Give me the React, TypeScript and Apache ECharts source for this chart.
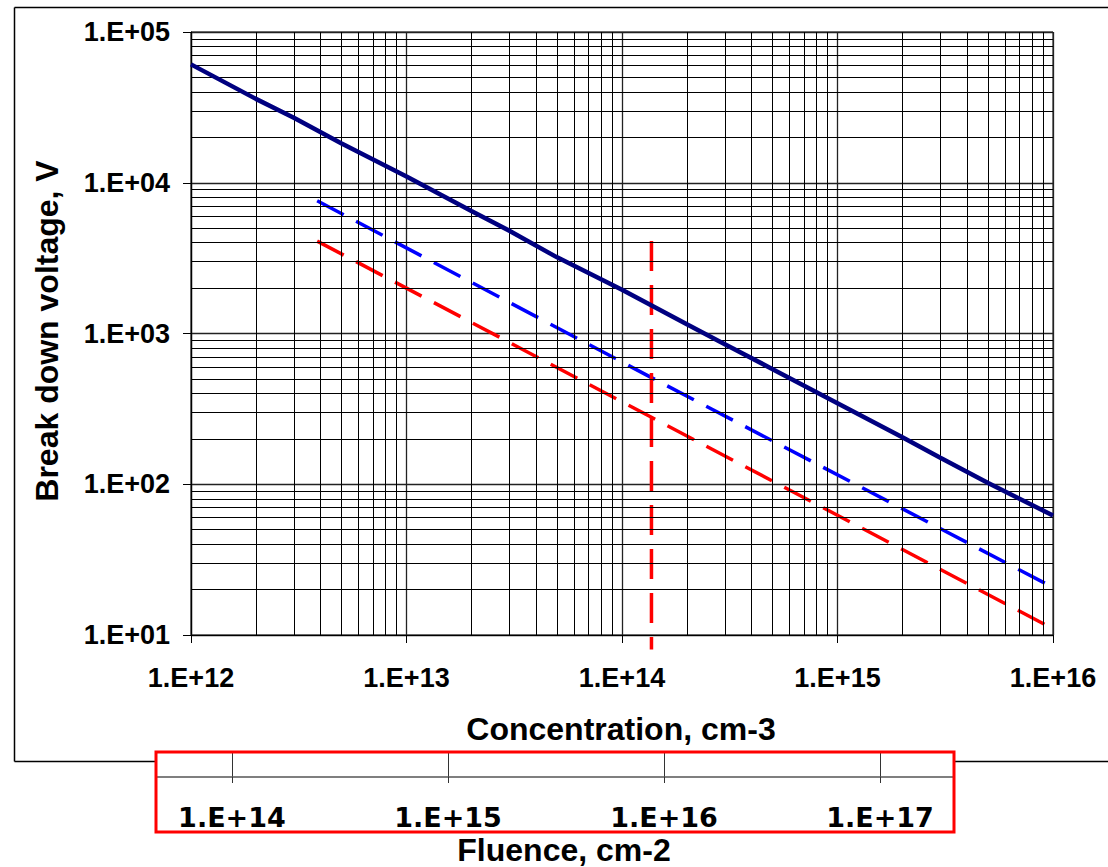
import React, { useEffect, useRef } from "react";
import * as echarts from "echarts";

// Concentration (cm-3) and breakdown voltage (V) – solid navy curve
const CONC = [1e12, 2e12, 3e12, 5e12, 1e13, 2e13, 3e13, 5e13, 1e14, 2e14, 3e14, 5e14, 1e15, 2e15, 3e15, 5e15, 1e16];
const VBD = [61000, 36000, 27000, 18200, 11000, 6500, 4800, 3200, 1950, 1150, 850, 580, 345, 205, 150, 102, 62];

// Blue dashed line
const BLUE_X = [3.85e12, 1.37e14, 9.2e15];
const BLUE_Y = [7600, 510, 22];

// Red dashed line
const RED_X = [3.85e12, 1.37e14, 9.2e15];
const RED_Y = [4100, 278, 11.7];

// Red vertical dashed marker
const VLINE_X = [1.37e14, 1.37e14];
const VLINE_Y = [4100, 8];

// Axis ranges
const X_MIN = 1e12;
const X_MAX = 1e16;
const Y_MIN = 10;
const Y_MAX = 1e5;
const FLU_MIN = 4.45e13;
const FLU_MAX = 2.2e17;

// Minor grid decades / multipliers
const X_DECADES = [1e12, 1e13, 1e14, 1e15];
const Y_DECADES = [1e1, 1e2, 1e3, 1e4];
const MULTS = [2, 3, 4, 5, 6, 7, 8, 9];

const FONT = "'Liberation Sans', Arial, sans-serif";

function fmtExp(v: number): string {
  const e = Math.log10(v);
  const r = Math.round(e);
  if (Math.abs(e - r) > 1e-6) return "";
  const s = Math.abs(r).toString().padStart(2, "0");
  return "1.E" + (r < 0 ? "-" : "+") + s;
}

export default function App() {
  const ref = useRef<HTMLDivElement>(null);
  useEffect(() => {
    document.body.style.margin = "0";
    if (!ref.current) return;
    const chart = echarts.init(ref.current, undefined, { renderer: "svg" });

    const minorX: any[] = [];
    X_DECADES.forEach((d) => MULTS.forEach((m) => minorX.push({ xAxis: d * m })));
    const minorY: any[] = [];
    Y_DECADES.forEach((d) => MULTS.forEach((m) => minorY.push({ yAxis: d * m })));

    const zip = (a: number[], b: number[]) => a.map((v, i) => [v, b[i]]);

    const option: any = {
      animation: false,
      backgroundColor: "#fff",
      grid: [
        {
          left: 191,
          right: 55,
          top: 32,
          bottom: 232,
          show: true,
          borderColor: "#000",
          borderWidth: 1,
          outerBoundsMode: "none",
        },
        {
          left: 156,
          right: 154,
          top: 752,
          height: 25,
          show: false,
          outerBoundsMode: "none",
        },
      ],
      xAxis: [
        {
          type: "log",
          logBase: 10,
          min: X_MIN,
          max: X_MAX,
          gridIndex: 0,
          axisLine: { show: true, lineStyle: { color: "#000", width: 1 } },
          axisTick: { show: true, length: 8, lineStyle: { color: "#000" } },
          splitLine: { show: true, lineStyle: { color: "#222", width: 1.3 } },
          axisLabel: {
            formatter: (v: number) => fmtExp(v),
            fontFamily: FONT,
            fontWeight: "bold",
            fontSize: 27,
            color: "#000",
            margin: 29,
          },
        },
        {
          type: "log",
          logBase: 10,
          min: FLU_MIN,
          max: FLU_MAX,
          gridIndex: 1,
          axisLine: { show: true, lineStyle: { color: "#555", width: 1.5 } },
          axisTick: { show: true, length: 6, lineStyle: { color: "#333" } },
          splitLine: { show: true, lineStyle: { color: "#333", width: 1 } },
          axisLabel: {
            formatter: (v: number) => fmtExp(v),
            fontFamily: "'DejaVu Sans', sans-serif",
            fontWeight: "bold",
            fontSize: 27,
            color: "#000",
            margin: 27,
          },
        },
      ],
      yAxis: [
        {
          type: "log",
          logBase: 10,
          min: Y_MIN,
          max: Y_MAX,
          gridIndex: 0,
          axisLine: { show: true, lineStyle: { color: "#000", width: 1 } },
          axisTick: { show: true, length: 8, lineStyle: { color: "#000" } },
          splitLine: { show: true, lineStyle: { color: "#222", width: 1.3 } },
          axisLabel: {
            formatter: (v: number) => fmtExp(v),
            fontFamily: FONT,
            fontWeight: "bold",
            fontSize: 27,
            color: "#000",
            margin: 21,
          },
        },
        {
          type: "value",
          gridIndex: 1,
          min: 0,
          max: 1,
          show: false,
        },
      ],
      series: [
        {
          type: "line",
          xAxisIndex: 0,
          yAxisIndex: 0,
          data: [],
          z: 1,
          silent: true,
          markLine: {
            silent: true,
            animation: false,
            symbol: ["none", "none"],
            label: { show: false },
            lineStyle: { type: "solid", color: "#000", width: 1 },
            emphasis: { disabled: true },
            data: [...minorX, ...minorY],
          },
        },
        {
          name: "Breakdown",
          type: "line",
          data: zip(CONC, VBD),
          showSymbol: false,
          symbol: "none",
          lineStyle: { color: "#000080", width: 4.5 },
          z: 5,
        },
        {
          name: "Blue",
          type: "line",
          data: zip(BLUE_X, BLUE_Y),
          showSymbol: false,
          symbol: "none",
          lineStyle: { color: "#0000ff", width: 3.5, type: [30, 14] },
          z: 4,
        },
        {
          name: "Red",
          type: "line",
          data: zip(RED_X, RED_Y),
          showSymbol: false,
          symbol: "none",
          lineStyle: { color: "#ff0000", width: 3.5, type: [30, 14] },
          z: 4,
        },
        {
          name: "Marker",
          type: "line",
          data: zip(VLINE_X, VLINE_Y),
          showSymbol: false,
          symbol: "none",
          clip: false,
          lineStyle: { color: "#ff0000", width: 3.5, type: [30, 14] },
          z: 4,
        },
      ],
      graphic: [
        // outer chart border
        { type: "line", shape: { x1: 14.5, y1: 7.5, x2: 1110, y2: 7.5 }, style: { stroke: "#000", lineWidth: 1.5 } },
        { type: "line", shape: { x1: 14.5, y1: 7.5, x2: 14.5, y2: 761.5 }, style: { stroke: "#000", lineWidth: 1.5 } },
        { type: "line", shape: { x1: 14.5, y1: 761.5, x2: 156, y2: 761.5 }, style: { stroke: "#000", lineWidth: 1.5 } },
        { type: "line", shape: { x1: 954, y1: 761.5, x2: 1110, y2: 761.5 }, style: { stroke: "#000", lineWidth: 1.5 } },
        // red fluence box
        {
          type: "rect",
          shape: { x: 156, y: 752, width: 798, height: 80 },
          style: { fill: "none", stroke: "#ff0000", lineWidth: 3 },
          z: 100,
        },
        {
          type: "text",
          x: 621,
          y: 729,
          style: {
            text: "Concentration, cm-3",
            font: `bold 32px ${FONT}`,
            fill: "#000",
            align: "center",
            verticalAlign: "middle",
          },
        },
        {
          type: "text",
          x: 564,
          y: 850,
          style: {
            text: "Fluence, cm-2",
            font: `bold 32px ${FONT}`,
            fill: "#000",
            align: "center",
            verticalAlign: "middle",
          },
        },
        {
          type: "text",
          x: 47,
          y: 331,
          rotation: Math.PI / 2,
          style: {
            text: "Break down voltage, V",
            font: `bold 32px ${FONT}`,
            fill: "#000",
            align: "center",
            verticalAlign: "middle",
          },
        },
      ],
    };

    chart.setOption(option);
    return () => chart.dispose();
  }, []);

  return <div ref={ref} style={{ width: 1108, height: 867 }} />;
}
